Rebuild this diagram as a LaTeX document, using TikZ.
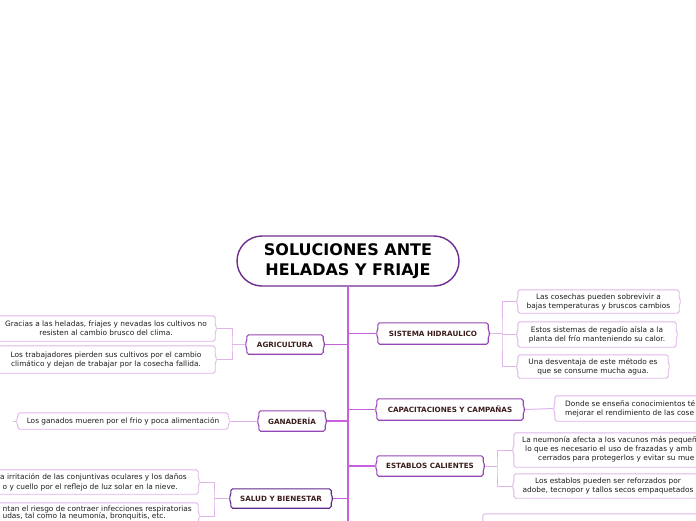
\documentclass[tikz,border=0pt]{standalone}
\usepackage{fontspec}
\setmainfont{DejaVu Sans}
\definecolor{trunkc}{RGB}{200,95,220}
\definecolor{catc}{RGB}{150,70,180}
\definecolor{catdark}{RGB}{95,40,140}
\definecolor{leafc}{RGB}{225,180,235}
\definecolor{rootc}{RGB}{110,45,145}
\definecolor{cattext}{RGB}{60,30,30}
\definecolor{leaftext}{RGB}{30,30,30}
\newcommand{\bracebox}[2]{\draw[#2] (#1.north) -- (#1.north east) -- ([yshift=3pt]#1.east) -- ([xshift=2pt]#1.east) -- ([yshift=-3pt]#1.east) -- (#1.south east) -- (#1.south west) -- ([yshift=-3pt]#1.west) -- ([xshift=-2pt]#1.west) -- ([yshift=3pt]#1.west) -- (#1.north west) -- cycle;}
\begin{document}
\begin{tikzpicture}[x=1pt,y=-1pt,
  leaf/.style={inner sep=0pt, align=center, font=\fontsize{7.4}{9}\selectfont, text=leaftext},
  linetxt/.style={inner sep=0pt, font=\fontsize{7.4}{9}\selectfont, text=leaftext},
  cat/.style={inner sep=0pt, align=center, font=\fontsize{7.2}{8}\selectfont\bfseries, text=cattext},
  catbox/.style={draw=catc, line width=1.1pt, rounded corners=1.8pt, fill=white},
  catboxd/.style={draw=catdark, line width=1.1pt, rounded corners=1.8pt, fill=white},
  leafbox/.style={draw=leafc, line width=0.9pt, rounded corners=1.8pt},
  trunk/.style={draw=trunkc, line width=1.3pt},
  leafline/.style={draw=leafc, line width=1pt},
  rootnode/.style={draw=rootc, line width=1.4pt, rounded corners=25pt, fill=white, inner sep=0pt, align=center, font=\fontsize{16}{20}\selectfont\bfseries, text=black}]
\useasboundingbox (0,0) rectangle (696,520);
\clip (0,0) rectangle (696,520);
\fill[white] (0,0) rectangle (696,520);

% root
\node[rootnode, minimum width=222pt, minimum height=50pt] (root) at (348,261) {SOLUCIONES ANTE\\HELADAS Y FRIAJE};

% categories
\node[cat, minimum width=76pt, minimum height=19pt] (agri) at (285,344.5) {AGRICULTURA};
\node[cat, minimum width=66pt, minimum height=20pt] (gana) at (292,421) {GANADERÍA};
\node[cat, minimum width=100pt, minimum height=19pt] (salud) at (281,498.5) {SALUD Y BIENESTAR};
\node[cat, minimum width=110pt, minimum height=21pt] (sis) at (433,333.5) {SISTEMA HIDRAULICO};
\node[cat, minimum width=146pt, minimum height=21pt] (cap) at (450,409.5) {CAPACITACIONES Y CAMPAÑAS};
\node[cat, minimum width=106pt, minimum height=20pt] (est) at (430,466) {ESTABLOS CALIENTES};

% leaves
\node[leaf, minimum width=218pt, minimum height=25pt] (a1) at (106,328.5) {Gracias a las heladas, friajes y nevadas los cultivos no\\resisten al cambio brusco del clima.};
\node[leaf, minimum width=218pt, minimum height=27pt] (a2) at (106,359.5) {Los trabajadores pierden sus cultivos por el cambio\\climático y dejan de trabajar por la cosecha fallida.};
\node[leaf, minimum width=210pt, minimum height=16pt] (g1) at (123,421) {Los ganados mueren por el frio y poca alimentación};
\node[minimum width=220pt, minimum height=24pt, inner sep=0pt] (s1) at (88,482) {};
\node[minimum width=220pt, minimum height=26pt, inner sep=0pt] (s2) at (88,516) {};
\node[linetxt, anchor=east] (s1t1) at (187,477) {a irritación de las conjuntivas oculares y los daños};
\node[linetxt, anchor=east] (s1t2) at (178,487) {o y cuello por el reflejo de luz solar en la nieve.};
\node[linetxt, anchor=east] (s2t1) at (192,509) {ntan el riesgo de contraer infecciones respiratorias};
\node[linetxt, anchor=east] (s2t2) at (166,516.5) {udas, tal como la neumonía, bronquitis, etc.};

\node[leaf, minimum width=161pt, minimum height=23pt] (r1) at (598.5,301.5) {Las cosechas pueden sobrevivir a\\bajas temperaturas y bruscos cambios};
\node[leaf, minimum width=158pt, minimum height=25pt] (r2) at (597,334.5) {Estos sistemas de regadío aísla a la\\planta del frío manteniendo su calor.};
\node[leaf, minimum width=150pt, minimum height=23pt] (r3) at (593,366.5) {Una desventaja de este método es\\que se consume mucha agua.};
\node[minimum width=225pt, minimum height=25pt, inner sep=0pt] (c1) at (667.5,408.5) {};
\node[linetxt, anchor=west] (c1t1) at (565,404) {Donde se enseña conocimientos té};
\node[linetxt, anchor=west] (c1t2) at (565,413) {mejorar el rendimiento de las cose};
\node[minimum width=286pt, minimum height=34pt, inner sep=0pt] (e1) at (657,450) {};
\node[linetxt, anchor=west] (e1t1) at (522,440) {La neumonía afecta a los vacunos más pequeñ};
\node[linetxt, anchor=west] (e1t2) at (525,449.5) {lo que es necesario el uso de frazadas y amb};
\node[linetxt, anchor=west] (e1t3) at (538,458.5) {cerrados para protegerlos y evitar su mue};
\node[leaf, minimum width=188pt, minimum height=24pt] (e2) at (608,486) {Los establos pueden ser reforzados por\\adobe, tecnopor y tallos secos empaquetados};
\node[minimum width=234pt, minimum height=52pt, inner sep=0pt] (b1) at (600,540) {};

% trunk coordinates
\coordinate (tEnd) at (348,530);
\coordinate (tA) at (348,344.5);
\coordinate (tG) at (348,421);
\coordinate (tS) at (348,498.5);
\coordinate (tH) at (348,333.5);
\coordinate (tC) at (348,409.5);
\coordinate (tE) at (348,466);
\coordinate (bA) at (232,344.5);
\coordinate (bS) at (214,498.5);
\coordinate (bR) at (502,333.5);
\coordinate (bE) at (497,466);
\coordinate (gstub) at (13,421);

% leaf connectors
\draw[leafline] ([xshift=-2pt]agri.west) -- (bA);
\draw[leafline] ([xshift=2pt]a1.east) -| (bA) |- ([xshift=2pt]a2.east);
\draw[leafline] ([xshift=-2pt]gana.west) -- ([xshift=2pt]g1.east);
\draw[leafline] ([xshift=-2pt]g1.west) -- (gstub);
\draw[leafline] ([xshift=-2pt]salud.west) -- (bS);
\draw[leafline] ([xshift=2pt]s1.east) -| (bS) |- ([xshift=2pt]s2.east);
\draw[leafline] ([xshift=2pt]sis.east) -- (bR);
\draw[leafline] ([xshift=-2pt]r1.west) -| (bR) |- ([xshift=-2pt]r3.west);
\draw[leafline] (bR) |- ([xshift=-2pt]r2.west);
\draw[leafline] ([xshift=2pt]cap.east) -- ([xshift=-2pt]c1.west);
\draw[leafline] ([xshift=2pt]est.east) -- (bE);
\draw[leafline] ([xshift=-2pt]e1.west) -| (bE) |- ([xshift=-2pt]e2.west);
% trunk
\draw[trunk] (root.south) -- (tEnd);
\draw[trunk] (tA) -- ([xshift=2pt]agri.east);
\draw[trunk] (tG) -- ([xshift=2pt]gana.east);
\draw[trunk] (tS) -- ([xshift=2pt]salud.east);
\draw[trunk] (tH) -- ([xshift=-2pt]sis.west);
\draw[trunk] (tC) -- ([xshift=-2pt]cap.west);
\draw[trunk] (tE) -- ([xshift=-2pt]est.west);

% boxes
\bracebox{agri}{catbox}
\bracebox{gana}{catbox}
\bracebox{salud}{catboxd}
\bracebox{sis}{catbox}
\bracebox{cap}{catbox}
\bracebox{est}{catbox}
\foreach \n in {a1,a2,g1,s1,s2,r1,r2,r3,c1,e1,e2,b1} {\bracebox{\n}{leafbox}}

% texts on top of filled category boxes
\node[cat] at (agri) {AGRICULTURA};
\node[cat] at (gana) {GANADERÍA};
\node[cat] at (salud) {SALUD Y BIENESTAR};
\node[cat] at (sis) {SISTEMA HIDRAULICO};
\node[cat] at (cap) {CAPACITACIONES Y CAMPAÑAS};
\node[cat] at (est) {ESTABLOS CALIENTES};
\end{tikzpicture}
\end{document}
